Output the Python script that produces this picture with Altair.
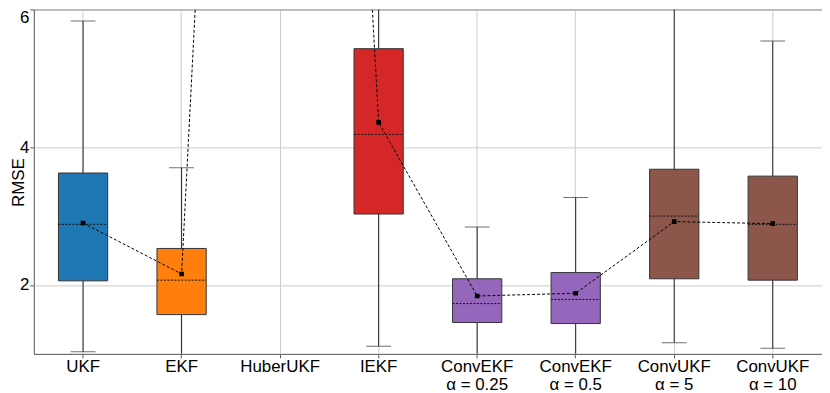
import altair as alt
import pandas as pd

names = ["UKF", "EKF", "HuberUKF", "IEKF", "ConvEKF\nα = 0.25", "ConvEKF\nα = 0.5",
         "ConvUKF\nα = 5", "ConvUKF\nα = 10"]
whisk_lo = [1.03, 0.6, 9.0, 1.11, 0.8, 0.85, 1.16, 1.08]
q1 = [2.06, 1.57, 14.0, 3.03, 1.455, 1.44, 2.09, 2.07]
median = [2.88, 2.07, 22.0, 4.185, 1.73, 1.79, 3.0, 2.88]
q3 = [3.625, 2.53, 38.0, 5.43, 2.09, 2.18, 3.68, 3.58]
whisk_hi = [5.83, 3.70, 70.0, 8.5, 2.84, 3.27, 7.0, 5.54]
mean = [2.90, 2.16, 30.0, 4.36, 1.84, 1.88, 2.92, 2.89]
colors = ["#1f77b4", "#ff7f0e", "#2ca02c", "#d62728", "#9467bd", "#9467bd",
          "#8c564b", "#8c564b"]

df = pd.DataFrame({
    "name": names, "idx": list(range(len(names))), "lo": whisk_lo, "q1": q1,
    "med": median, "q3": q3, "hi": whisk_hi, "mean": mean, "color": colors,
})

FONT = "Liberation Sans"
xenc = alt.X("name:N", sort=names, title=None,
             scale=alt.Scale(paddingInner=0, paddingOuter=0),
             axis=alt.Axis(labelExpr="split(datum.label, '\\n')", labelAngle=0,
                           labelFontSize=17, labelColor="black", labelFont=FONT,
                           labelLineHeight=18, bandPosition=0.5, grid=True,
                           gridColor="#cccccc", domain=False, tickSize=4,
                           tickColor="#555", labelPadding=1))
yscale = alt.Scale(domain=[1, 6], nice=False, zero=False)
yenc = alt.Y("q1:Q", scale=yscale, title="RMSE",
             axis=alt.Axis(values=[2, 4, 6], format="d", labelFontSize=17,
                           labelColor="black", labelFont=FONT, titleFont=FONT,
                           titleFontSize=17, titleFontWeight="normal",
                           titleColor="black", grid=True, gridColor="#cccccc",
                           domain=False, tickSize=4, tickColor="#555",
                           labelPadding=1, labelFlush=True,
                           titleX=-10, titleY=174, titleAngle=270,
                           titleAlign="center", titleBaseline="alphabetic"))

base = alt.Chart(df)

whisk_low = base.mark_rule(color="#222", strokeWidth=1, clip=True).encode(
    x=xenc, y=alt.Y("lo:Q", scale=yscale), y2="q1:Q")
whisk_high = base.mark_rule(color="#222", strokeWidth=1, clip=True).encode(
    x=xenc, y=alt.Y("q3:Q", scale=yscale), y2="hi:Q")
cap_lo = base.mark_tick(color="#333", size=25, thickness=1, clip=True).encode(
    x=xenc, y=alt.Y("lo:Q", scale=yscale))
cap_hi = base.mark_tick(color="#333", size=25, thickness=1, clip=True).encode(
    x=xenc, y=alt.Y("hi:Q", scale=yscale))
boxes = base.mark_bar(width=alt.RelativeBandSize(0.5), stroke="#333", strokeWidth=1,
                      clip=True).encode(
    x=xenc, y=yenc, y2="q3:Q",
    color=alt.Color("color:N", scale=None))
med = base.mark_rule(color="#111", strokeWidth=1, strokeDash=[2, 1.5], clip=True).encode(
    x=alt.X("name:N", sort=names, bandPosition=0.25),
    x2=alt.X2("name", bandPosition=0.75),
    y=alt.Y("med:Q", scale=yscale))
mean_line = base.mark_line(color="black", strokeWidth=1, strokeDash=[3, 2],
                           clip=True).encode(
    x=alt.X("name:N", sort=names), y=alt.Y("mean:Q", scale=yscale), order="idx:Q")
mean_pts = base.mark_square(color="black", size=22, opacity=1, clip=True).encode(
    x=alt.X("name:N", sort=names), y=alt.Y("mean:Q", scale=yscale))

chart = alt.layer(whisk_low, whisk_high, cap_lo, cap_hi, boxes, med, mean_line,
                  mean_pts).properties(
    width=794, height=347,
    autosize=alt.AutoSizeParams(type="none"),
    padding={"left": 26, "top": 0, "right": 0, "bottom": 38},
).configure_view(stroke="#555", strokeWidth=1)

chart.save("out.html", embed_options={"renderer": "svg", "actions": False})
